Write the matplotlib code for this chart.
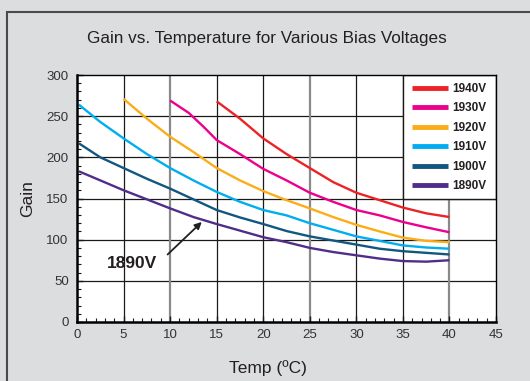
import numpy as np
import matplotlib
matplotlib.use("Agg")
import matplotlib.pyplot as plt
from matplotlib.patches import Rectangle
from matplotlib.ticker import MultipleLocator

plt.rcParams["font.family"] = ["Liberation Sans", "DejaVu Sans"]

# ── data ────────────────────────────────────────────────────────────────────
temp_1940 = [15, 17.5, 20, 22.5, 25, 27.5, 30, 32.5, 35, 37.5, 40]
gain_1940 = [268, 247, 223, 204, 187, 170, 157, 148, 139, 132, 127.5]

temp_1930 = [10, 12, 13.6, 15, 17.5, 20, 22.5, 25, 27.5, 30, 32.5, 35, 37.5, 40]
gain_1930 = [269, 254, 237, 221, 204, 186, 172, 157, 146, 136, 129.5, 121.5, 115, 109]

temp_1920 = [5, 7.5, 10, 12.5, 15, 17.5, 20, 22.5, 25, 27.5, 30, 32.5, 35, 37.5, 40]
gain_1920 = [271, 247, 225, 206.5, 187, 172, 159, 148, 138, 127.5, 118, 110, 102.5, 98.5, 97]

temp_all = [0.2, 2.5, 5, 7.5, 10, 12.5, 15, 17.5, 20, 22.5, 25, 27.5, 30, 32.5, 35, 37.5, 40]
gain_1910 = [264, 243, 223, 204, 187, 172, 158, 146, 136, 129.5, 120, 112, 104, 98.5, 93, 90.5, 89]
gain_1900 = [217, 200, 187, 174, 162, 149, 136, 127, 119, 110.5, 104, 99, 94, 89, 86, 84, 82]
gain_1890 = [183, 172, 160, 149, 138, 127.5, 119, 111, 103, 97, 90, 85, 81, 77, 74, 73.3, 75]

LABELS = ["1940V", "1930V", "1920V", "1910V", "1900V", "1890V"]
SERIES = [(temp_1940, gain_1940), (temp_1930, gain_1930), (temp_1920, gain_1920),
          (temp_all, gain_1910), (temp_all, gain_1900), (temp_all, gain_1890)]
COLOURS = ["#ec2227", "#ec008c", "#fbad18", "#00aeef", "#12577f", "#4f2d8a"]

CALLOUT = "1890V"
CALLOUT_TEXT_AT = (5.9, 71)
CALLOUT_TAIL = (9.73, 82)
CALLOUT_HEAD = (13.4, 121.5)

BG = "#dcdddf"

# ── figure ──────────────────────────────────────────────────────────────────
fig = plt.figure(figsize=(5.30, 3.81), dpi=100, facecolor=BG)
# outer frame
fig.patches.append(Rectangle((7 / 530, -0.1), 1.2, 1 - 11.5 / 381 + 0.1,
                             transform=fig.transFigure, fill=False,
                             edgecolor="#4a4a4a", lw=1.5))

ax = fig.add_axes([77 / 530, 1 - 322 / 381, 419 / 530, 247 / 381])
ax.set_facecolor("white")
ax.set_xlim(0, 45)
ax.set_ylim(0, 300)

# grid: black thin lines, some vertical ones grey & heavier
for y in [50, 100, 150, 200, 250]:
    ax.axhline(y, color="#1a1a1a", lw=0.9, zorder=1)
for x in [5, 15, 20, 30, 35]:
    ax.axvline(x, color="#1a1a1a", lw=0.9, zorder=1)
for x in [10, 25, 40]:
    ax.axvline(x, color="#8a8a8a", lw=1.6, zorder=1)

# legend panel (covers grid in the upper right)
ax.add_patch(Rectangle((35, 150), 10, 150, facecolor="white",
                       edgecolor="#1a1a1a", lw=1.0, zorder=2))

handles = []
for (t, g), lab, c in zip(SERIES, LABELS, COLOURS):
    h, = ax.plot(t, g, color=c, lw=1.7, label=lab, zorder=3,
                 solid_capstyle="butt")
    handles.append(h)

leg = ax.legend(handles=handles, loc="upper left", bbox_to_anchor=(0.80, 0.968),
                frameon=False, handlelength=3.0, handletextpad=0.4,
                labelspacing=0.63, borderaxespad=0, borderpad=0,
                prop={"weight": "bold", "size": 8.5})
for lh in leg.get_lines():
    lh.set_linewidth(3.5)
for txt in leg.get_texts():
    txt.set_color("#231f20")
leg.set_zorder(4)

# callout
ax.text(*CALLOUT_TEXT_AT, CALLOUT, ha="center", va="center", fontsize=12.5,
        fontweight="bold", color="#231f20", zorder=5)
ax.annotate("", xy=CALLOUT_HEAD, xytext=CALLOUT_TAIL,
            arrowprops=dict(arrowstyle="-|>", color="#231f20", lw=1.3,
                            mutation_scale=10, shrinkA=0, shrinkB=0),
            zorder=5)

# axes cosmetics
for side in ["left", "bottom"]:
    ax.spines[side].set_linewidth(1.8)
for side in ["top", "right"]:
    ax.spines[side].set_linewidth(1.0)
for s in ax.spines.values():
    s.set_zorder(6)

ax.xaxis.set_major_locator(MultipleLocator(5))
ax.xaxis.set_minor_locator(MultipleLocator(1))
ax.yaxis.set_major_locator(MultipleLocator(50))
ax.yaxis.set_minor_locator(MultipleLocator(10))
ax.tick_params(which="both", direction="in", top=False, right=False,
               colors="#1a1a1a", labelcolor="#333333", labelsize=9.5)
ax.tick_params(which="major", length=4, width=1.0)
ax.tick_params(which="minor", length=3, width=0.8)
ax.tick_params(axis="x", pad=5)
ax.tick_params(axis="y", pad=6)

ax.set_xlabel("Temp (ºC)", fontsize=12.5, color="#231f20")
ax.xaxis.set_label_coords(0.456, -0.186)
ax.xaxis.label.set_va("center")
ax.set_ylabel("Gain", fontsize=12.5, color="#231f20")
ax.yaxis.set_label_coords(-0.119, 0.5)
ax.yaxis.label.set_va("center")

fig.text(267 / 530, 1 - 39 / 381, "Gain vs. Temperature for Various Bias Voltages",
         ha="center", va="center", fontsize=12.3, color="#231f20")

fig.savefig("out.png", dpi=100, facecolor=BG)
